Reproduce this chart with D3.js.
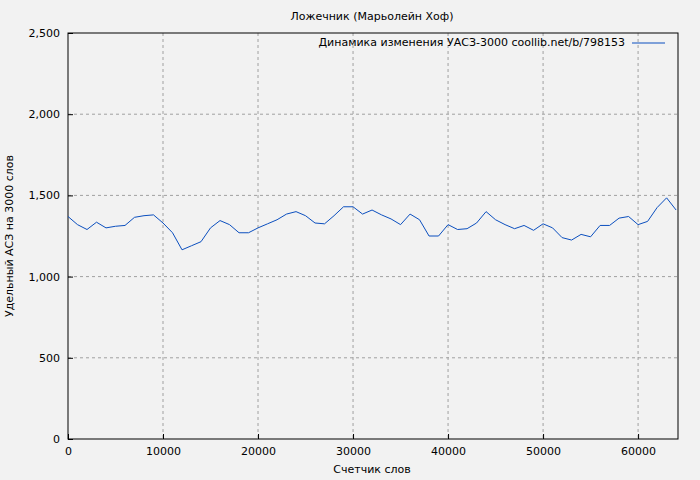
<!DOCTYPE html><html><head><meta charset="utf-8"><script src="https://cdn.jsdelivr.net/npm/d3@7"></script>
<style>body{margin:0;background:#f2f2f2}</style></head><body><svg id="c" width="700" height="480"></svg><script>
const words=d3.range(0,65000,1000);
const values=[1370,1320,1290,1335,1300,1310,1315,1365,1375,1380,1330,1270,1165,1190,1215,1300,1345,1320,1270,1270,1300,1325,1350,1385,1400,1375,1330,1325,1375,1430,1430,1385,1410,1380,1355,1320,1385,1350,1250,1250,1320,1290,1295,1330,1400,1350,1320,1295,1315,1285,1325,1300,1240,1225,1260,1245,1315,1315,1360,1370,1320,1340,1425,1485,1410];
const xTicks=[0,10000,20000,30000,40000,50000,60000];
const yTicks=[0,500,1000,1500,2000,2500];
const svg=d3.select("#c");
svg.append("rect").attr("width",700).attr("height",480).attr("fill","#f2f2f2");
const x=d3.scaleLinear().domain([0,64200]).range([68,678]);
const y=d3.scaleLinear().domain([0,2500]).range([439,33]);
const g=svg.append("g");
g.selectAll(".gx").data(xTicks.slice(1)).join("line").attr("x1",d=>x(d)).attr("x2",d=>x(d)).attr("y1",33).attr("y2",439).attr("stroke","#a0a0a0").attr("stroke-dasharray","3,3");
g.selectAll(".gy").data(yTicks.slice(1,-1)).join("line").attr("y1",d=>y(d)).attr("y2",d=>y(d)).attr("x1",68).attr("x2",678).attr("stroke","#a0a0a0").attr("stroke-dasharray","3,3");
svg.append("rect").attr("x",68).attr("y",33).attr("width",610).attr("height",406).attr("fill","none").attr("stroke","#000");
const ax=svg.append("g").attr("transform","translate(0,439)").call(d3.axisBottom(x).tickValues(xTicks).tickFormat(d3.format("d")).tickSize(-5).tickPadding(8));
const ay=svg.append("g").attr("transform","translate(68,0)").call(d3.axisLeft(y).tickValues(yTicks).tickSize(-5).tickPadding(8));
[ax,ay].forEach(a=>{a.select(".domain").remove();a.selectAll("text").attr("font-family","DejaVu Sans").attr("font-size",11).attr("fill","#000");});
svg.append("path").datum(values).attr("fill","none").attr("stroke","#0b4fbf").attr("stroke-width",1)
 .attr("d",d3.line().x((d,i)=>x(words[i])).y(d=>y(d)));
const t=(s,xx,yy,o={})=>svg.append("text").text(s).attr("x",xx).attr("y",yy).attr("font-family","DejaVu Sans").attr("font-size",11).attr("text-anchor",o.a||"middle").attr("transform",o.r||null);
t("Ложечник (Марьолейн Хоф)",372,20);
t("Счетчик слов",372,473);
t("Удельный АСЗ на 3000 слов",13,236,{r:"rotate(-90,13,236)"});
t("Динамика изменения УАСЗ-3000 coollib.net/b/798153",625,46,{a:"end"});
svg.append("line").attr("x1",632).attr("x2",665).attr("y1",43).attr("y2",43).attr("stroke","#0b4fbf");
</script></body></html>
